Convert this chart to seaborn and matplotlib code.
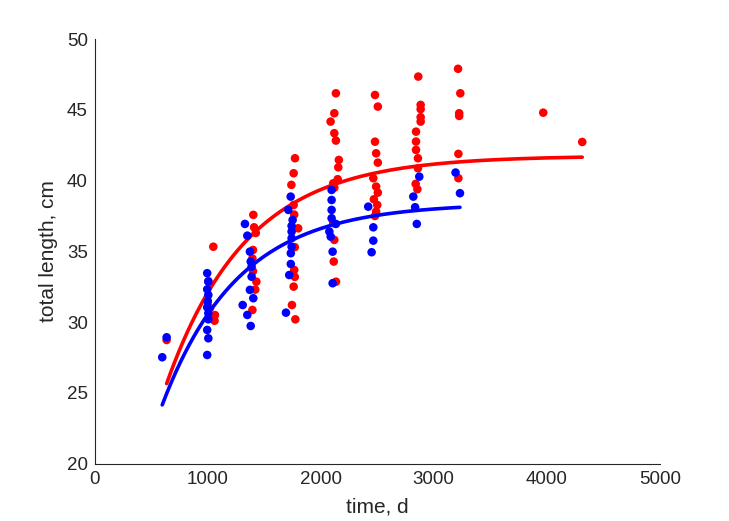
import numpy as np
import pandas as pd
import matplotlib
matplotlib.use("Agg")
import matplotlib.pyplot as plt
import seaborn as sns

# ---- data ----
red_time = [636,
            1049, 1005, 1000, 1020, 1064, 1045, 1060,
            1403, 1410, 1425, 1400, 1395, 1400, 1430, 1420, 1395,
            1772, 1760, 1740, 1760, 1765, 1800, 1770, 1765, 1770, 1760, 1745, 1775,
            2134, 2120, 2087, 2120, 2134, 2160, 2155, 2150, 2110, 2120, 2110, 2120, 2115, 2135,
            2480, 2505, 2480, 2490, 2505, 2465, 2490, 2505, 2470, 2500, 2490, 2480,
            2863, 2884, 2884, 2884, 2884, 2843, 2843, 2843, 2860, 2860, 2840, 2855,
            3215, 3235, 3225, 3225, 3218, 3218,
            3969, 4314]
red_length = [28.74,
              35.33, 32.9, 31.5, 31.0, 30.5, 30.27, 30.1,
              37.58, 36.7, 36.3, 35.1, 34.5, 33.6, 32.86, 32.3, 30.86,
              41.58, 40.52, 39.7, 38.28, 37.6, 36.63, 35.3, 33.69, 33.2, 32.51, 31.21, 30.2,
              46.17, 44.76, 44.17, 43.35, 42.83, 41.46, 40.94, 40.1, 39.81, 39.5, 37.0, 35.81, 34.28, 32.86,
              46.05, 45.23, 42.75, 41.93, 41.27, 40.17, 39.58, 39.15, 38.68, 38.28, 37.81, 37.5,
              47.35, 45.35, 45.05, 44.48, 44.17, 43.46, 42.76, 42.17, 41.58, 40.87, 39.77, 39.39,
              47.9, 46.17, 44.76, 44.57, 41.89, 40.17,
              44.8, 42.73]

blue_time = [636, 597,
             995, 1005, 995, 1005, 1000, 995, 1005, 1005, 995, 1005, 995,
             1329, 1350, 1373, 1380, 1388, 1388, 1373, 1403, 1309, 1350, 1380,
             1734, 1713, 1751, 1742, 1742, 1742, 1742, 1735, 1735, 1721, 1692,
             2096, 2096, 2096, 2096, 2134, 2076, 2088, 2105, 2105,
             2420, 2465, 2465, 2450,
             2872, 2819, 2835, 2850,
             3193, 3232]
blue_length = [28.93, 27.52,
               33.46, 32.86, 32.32, 31.92, 31.45, 31.05, 30.63, 30.2, 29.45, 28.86, 27.68,
               36.94, 36.11, 34.98, 34.28, 33.92, 33.21, 32.28, 31.69, 31.21, 30.51, 29.73,
               38.87, 37.93, 37.22, 36.8, 36.4, 35.93, 35.33, 34.87, 34.11, 33.33, 30.67,
               39.34, 38.63, 37.93, 37.34, 36.94, 36.4, 36.04, 34.98, 32.75,
               38.16, 36.7, 35.76, 34.94,
               40.28, 38.87, 38.12, 36.94,
               40.57, 39.11]

# von Bertalanffy growth curve parameters
red_vb = dict(Linf=41.75, k=0.0014, t0=-45)
blue_vb = dict(Linf=38.4, k=0.00148, t0=-73)

x_ticks = [0, 1000, 2000, 3000, 4000, 5000]
y_ticks = [20, 25, 30, 35, 40, 45, 50]

# ---- build tables ----
red_df = pd.DataFrame({"time": red_time, "length": red_length})
blue_df = pd.DataFrame({"time": blue_time, "length": blue_length})


def vb_curve(times, p):
    t = np.linspace(min(times), max(times), 200)
    return pd.DataFrame({"time": t,
                         "length": p["Linf"] * (1 - np.exp(-p["k"] * (t - p["t0"])))})


red_fit = vb_curve(red_time, red_vb)
blue_fit = vb_curve(blue_time, blue_vb)

# ---- plot ----
sns.set_style("white")
plt.rcParams["font.family"] = ["Liberation Sans", "DejaVu Sans"]

fig = plt.figure(figsize=(7.29, 5.21), dpi=100)
ax = fig.add_axes([0.13, 0.11, 0.775, 0.815])

sns.scatterplot(data=red_df, x="time", y="length", ax=ax, color="#ff0000",
                s=38, edgecolor="none", linewidth=0, zorder=2)
sns.lineplot(data=red_fit, x="time", y="length", ax=ax, color="#ff0000",
             linewidth=2.6, zorder=3)
sns.scatterplot(data=blue_df, x="time", y="length", ax=ax, color="#0000ff",
                s=38, edgecolor="none", linewidth=0, zorder=4)
sns.lineplot(data=blue_fit, x="time", y="length", ax=ax, color="#0000ff",
             linewidth=2.6, zorder=5)

ax.set_xlim(0, 5000)
ax.set_ylim(20, 50)
ax.set_xticks(x_ticks)
ax.set_yticks(y_ticks)
ax.set_xlabel("time, d", fontsize=15, color="#262626", labelpad=7)
ax.set_ylabel("total length, cm", fontsize=15, color="#262626", labelpad=6)
ax.tick_params(direction="in", length=5, width=0.8, colors="#262626",
               labelsize=13.5, pad=5)
for side in ["top", "right"]:
    ax.spines[side].set_visible(False)
for side in ["left", "bottom"]:
    ax.spines[side].set_color("#262626")
    ax.spines[side].set_linewidth(0.8)

fig.savefig("out.png", dpi=100)
